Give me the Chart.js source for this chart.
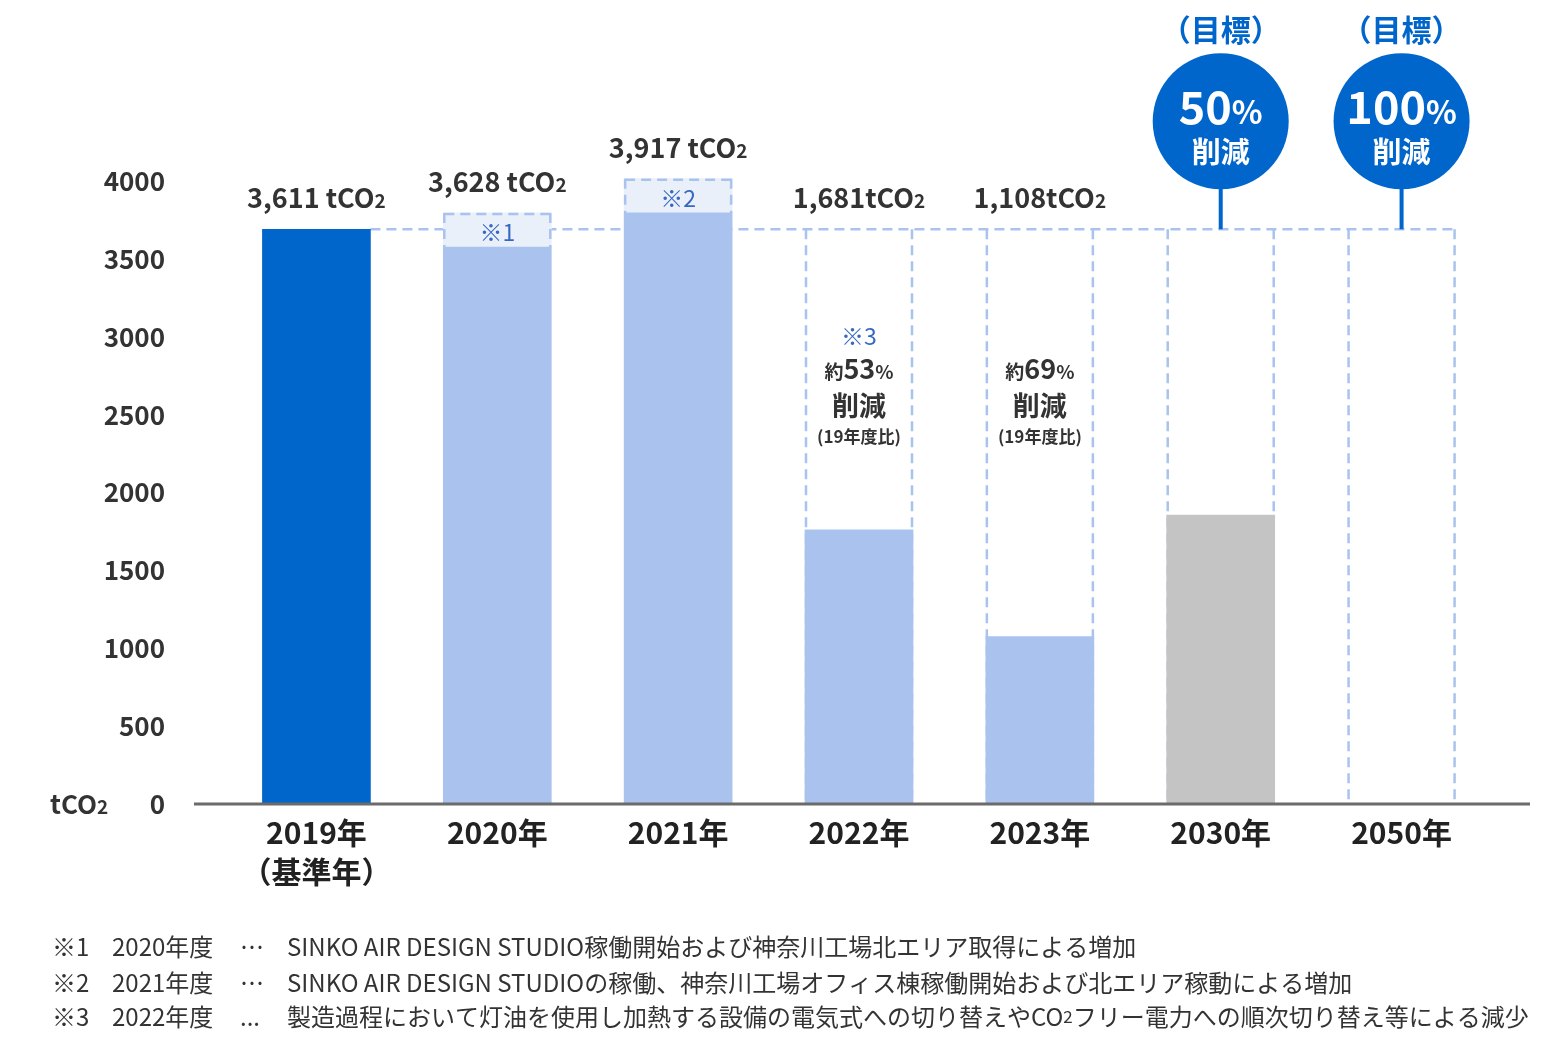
<!DOCTYPE html>
<html><head><meta charset="utf-8">
<script src="https://cdn.jsdelivr.net/npm/chart.js@4.4.1/dist/chart.umd.min.js"></script>
<style>html,body{margin:0;padding:0;background:#fff;}canvas{display:block;}</style>
</head><body>
<canvas id="c" width="1550" height="1050"></canvas>
<script>
// ---------- data ----------
const categories = [['2019年', '（基準年）'], '2020年', '2021年', '2022年', '2023年', '2030年', '2050年'];
const actualEmissions = [3690, 3575, 3795, 1760, 1075, 1855, null];
const increaseRange = [null, [3575, 3795], [3795, 4015], null, null, null, null];
const baselineValue = 3690;
const baselineFrame = [null, null, null, [0, 3690], [0, 3690], [0, 3690], [0, 3690]];
const valueLabels = ['3,611 tCO₂', '3,628 tCO₂', '3,917 tCO₂', '1,681tCO₂', '1,108tCO₂', null, null];
const noteMarks = [null, '※1', '※2', '※3', null, null, null];
const reductionPercents = [null, null, null, '53', '69', null, null];
const targetPercents = [null, null, null, null, null, '50', '100'];
const yMin = 0, yMax = 4000, yStep = 500;
const unitLabel = 'tCO₂';
const footnoteMarks = ['※1', '※2', '※3'];
const footnoteYears = ['2020年度', '2021年度', '2022年度'];
const footnoteSeps = ['…', '…', '...'];
const footnoteTexts = [
  'SINKO AIR DESIGN STUDIO稼働開始および神奈川工場北エリア取得による増加',
  'SINKO AIR DESIGN STUDIOの稼働、神奈川工場オフィス棟稼働開始および北エリア稼動による増加',
  '製造過程において灯油を使用し加熱する設備の電気式への切り替えやCO₂フリー電力への順次切り替え等による減少'
];

// ---------- styles ----------
const FONT = '"Noto Sans CJK JP", "Noto Sans", sans-serif';
const barColors = ['#0066cc', '#a9c3ee', '#a9c3ee', '#a9c3ee', '#a9c3ee', '#c4c4c4', '#c4c4c4'];
const DASH = '#a9c3ee';
const TEXT = '#333333';
const NOTE_BLUE = '#3568c2';
const CIRCLE_BLUE = '#0066cc';

function runsOf(str, size, subScale) {
  const out = [];
  const parts = str.split('₂');
  parts.forEach((p, i) => {
    if (p) out.push({ t: p, s: size });
    if (i < parts.length - 1) out.push({ t: '2', s: Math.round(size * (subScale || 0.7)), dy: 0 });
  });
  return out;
}
function drawRuns(ctx, runs, x, y, align, weight, color, baseline) {
  ctx.save();
  ctx.fillStyle = color;
  ctx.textBaseline = baseline || 'alphabetic';
  ctx.textAlign = 'left';
  let total = 0;
  runs.forEach(r => { ctx.font = `${weight} ${r.s}px ${FONT}`; r.w = ctx.measureText(r.t).width; total += r.w; });
  let cx = align === 'center' ? x - total / 2 : align === 'right' ? x - total : x;
  runs.forEach(r => { ctx.font = `${weight} ${r.s}px ${FONT}`; ctx.fillText(r.t, cx, y + (r.dy || 0)); cx += r.w; });
  ctx.restore();
}
function dashedLines(ctx, segs) {
  ctx.save();
  ctx.strokeStyle = DASH; ctx.lineWidth = 2.5; ctx.setLineDash([10, 6]);
  segs.forEach(s => { ctx.beginPath(); ctx.moveTo(s[0], s[1]); ctx.lineTo(s[2], s[3]); ctx.stroke(); });
  ctx.restore();
}

const decor = {
  id: 'decor',
  beforeDatasetsDraw(chart) {
    const { ctx, scales: { y } } = chart;
    const metaA = chart.getDatasetMeta(0), metaC = chart.getDatasetMeta(2);
    const yb = y.getPixelForValue(baselineValue);
    const first = metaA.data[0];
    let lastRight = first.x + first.width / 2;
    const segs = [];
    metaC.data.forEach((el, i) => {
      if (!baselineFrame[i]) return;
      const l = el.x - el.width / 2 + 1, r = el.x + el.width / 2 - 1;
      segs.push([l, el.y, l, el.base], [r, el.y, r, el.base]);
      lastRight = Math.max(lastRight, el.x + el.width / 2);
    });
    segs.push([first.x + first.width / 2, yb, lastRight, yb]);
    dashedLines(ctx, segs);
  },
  afterDatasetsDraw(chart) {
    const { ctx, chartArea, scales: { x, y } } = chart;
    const metaA = chart.getDatasetMeta(0), metaB = chart.getDatasetMeta(1), metaC = chart.getDatasetMeta(2);
    const yb = y.getPixelForValue(baselineValue);
    // extension frames
    const segs = [];
    metaB.data.forEach((el, i) => {
      if (!increaseRange[i]) return;
      const l = el.x - el.width / 2 + 1, r = el.x + el.width / 2 - 1;
      segs.push([l, el.y, l, el.base], [l, el.y + 1, r, el.y + 1], [r, el.y, r, el.base]);
    });
    dashedLines(ctx, segs);
    // axis line
    const y0 = y.getPixelForValue(0);
    ctx.save();
    ctx.strokeStyle = '#6b6b6b'; ctx.lineWidth = 3;
    ctx.beginPath(); ctx.moveTo(chartArea.left - 32, y0); ctx.lineTo(chartArea.right + 38, y0); ctx.stroke();
    ctx.restore();
    // unit label
    drawRuns(ctx, runsOf(unitLabel, 26, 0.72), 50, y0 + 10, 'left', 'bold', TEXT);

    categories.forEach((c, i) => {
      const cx = x.getPixelForValue(i);
      let top = y0;
      [metaA, metaB, metaC].forEach(m => { const el = m.data[i]; if (el && el.y != null && !isNaN(el.y) && el.y < top) top = el.y; });
      if (valueLabels[i]) drawRuns(ctx, runsOf(valueLabels[i], 27, 0.72), cx, top - 21, 'center', 'bold', TEXT);
      if (noteMarks[i] && increaseRange[i]) {
        const el = metaB.data[i];
        drawRuns(ctx, [{ t: noteMarks[i], s: 23 }], cx, (el.y + el.base) / 2 + 2, 'center', 'normal', NOTE_BLUE, 'middle');
      }
      if (reductionPercents[i]) {
        if (noteMarks[i]) drawRuns(ctx, [{ t: noteMarks[i], s: 23 }], cx, yb + 107, 'center', 'normal', NOTE_BLUE, 'middle');
        drawRuns(ctx, [{ t: '約', s: 19 }, { t: reductionPercents[i], s: 27 }, { t: '%', s: 19 }], cx, yb + 150, 'center', 'bold', TEXT);
        drawRuns(ctx, [{ t: '削減', s: 27 }], cx, yb + 176, 'center', 'bold', TEXT, 'middle');
        drawRuns(ctx, [{ t: '(19年度比)', s: 17 }], cx, yb + 207, 'center', 'bold', TEXT, 'middle');
      }
      if (targetPercents[i]) {
        const cy = yb - 108, r = 68;
        ctx.save();
        ctx.fillStyle = CIRCLE_BLUE;
        ctx.fillRect(cx - 2, cy + r - 4, 4, yb - (cy + r - 4));
        ctx.beginPath(); ctx.arc(cx, cy, r, 0, Math.PI * 2); ctx.fill();
        ctx.restore();
        drawRuns(ctx, [{ t: '（目標）', s: 30 }], cx, yb - 200, 'center', 'bold', CIRCLE_BLUE, 'middle');
        drawRuns(ctx, [{ t: targetPercents[i], s: 45 }, { t: '%', s: 32 }], cx, yb - 105, 'center', 'bold', '#ffffff');
        drawRuns(ctx, [{ t: '削減', s: 29 }], cx, yb - 77, 'center', 'bold', '#ffffff', 'middle');
      }
    });
    // footnotes
    const rows = [947, 983, 1017];
    footnoteTexts.forEach((t, k) => {
      drawRuns(ctx, [{ t: footnoteMarks[k], s: 24 }], 52, rows[k], 'left', 'normal', TEXT, 'middle');
      drawRuns(ctx, [{ t: footnoteYears[k], s: 24 }], 112, rows[k], 'left', 'normal', TEXT, 'middle');
      drawRuns(ctx, [{ t: footnoteSeps[k], s: 24 }], 240, rows[k], 'left', 'normal', TEXT, 'middle');
      drawRuns(ctx, runsOf(t, 24, 0.7), 287, rows[k], 'left', 'normal', TEXT, 'middle');
    });
  }
};

new Chart(document.getElementById('c'), {
  type: 'bar',
  data: {
    labels: categories,
    datasets: [
      { label: 'actual', data: actualEmissions, backgroundColor: barColors, barThickness: 108, grouped: false, clip: false, borderWidth: 0 },
      { label: 'increase', data: increaseRange, backgroundColor: '#eaf0fa', barThickness: 108, grouped: false, clip: false, borderWidth: 0 },
      { label: 'frame', data: baselineFrame, backgroundColor: 'rgba(0,0,0,0)', barThickness: 108, grouped: false, clip: false, borderWidth: 0 }
    ]
  },
  options: {
    responsive: false,
    devicePixelRatio: 1,
    animation: false,
    events: [],
    layout: { padding: { top: 181, right: 58, bottom: 146, left: 0 } },
    plugins: { legend: { display: false }, tooltip: { enabled: false } },
    scales: {
      x: {
        grid: { display: false, drawTicks: false },
        border: { display: false },
        ticks: { color: '#222', font: { family: FONT, size: 30, weight: 'bold', lineHeight: 1.27 }, padding: 10, autoSkip: false, maxRotation: 0 },
        afterFit: s => { s.height = 100; }
      },
      y: {
        min: yMin, max: yMax,
        grid: { display: false, drawTicks: false },
        border: { display: false },
        ticks: { stepSize: yStep, color: TEXT, font: { family: FONT, size: 26, weight: 'bold' }, padding: 61, callback: v => String(v) },
        afterFit: s => { s.width = 226; }
      }
    }
  },
  plugins: [decor]
});
</script>
</body></html>
